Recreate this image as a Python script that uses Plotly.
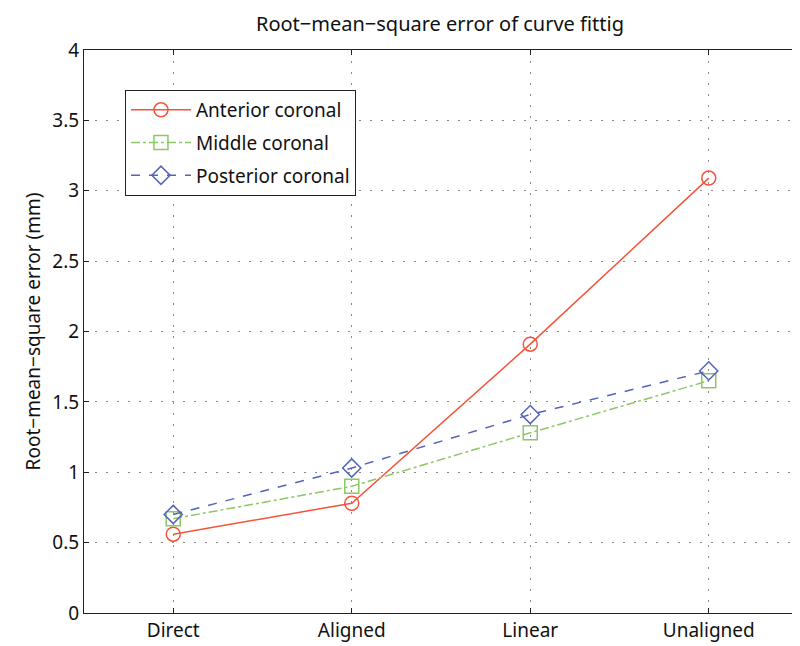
import plotly.graph_objects as go

categories = ["Direct", "Aligned", "Linear", "Unaligned"]
anterior = [0.56, 0.78, 1.91, 3.09]
middle = [0.67, 0.90, 1.28, 1.65]
posterior = [0.70, 1.03, 1.41, 1.72]
y_ticks = [0, 0.5, 1, 1.5, 2, 2.5, 3, 3.5, 4]
y_labels = ["0", "0.5", "1", "1.5", "2", "2.5", "3", "3.5", "4"]

xpos = list(range(1, len(categories) + 1))
FONT = "Noto Sans"

fig = go.Figure()
series = [
    ("Anterior coronal", anterior, "#f5543a", "solid", "circle-open"),
    ("Middle coronal", middle, "#8cc864", "dashdot", "square-open"),
    ("Posterior coronal", posterior, "#5563b8", "dash", "diamond-open"),
]
for i, (name, vals, col, dash, sym) in enumerate(series):
    fig.add_trace(go.Scatter(
        x=xpos, y=vals, name=name, mode="lines+markers", legendgroup=f"g{i}",
        line=dict(color=col, width=1.5, dash=dash),
        marker=dict(symbol=sym, size=14, color=col, line=dict(width=1.5, color=col)),
    ))

axis_common = dict(
    showline=True, linecolor="#222", linewidth=1, mirror="ticks",
    ticks="inside", ticklen=5, tickcolor="#222",
    showgrid=True, gridcolor="#888", griddash="2px,9px", gridwidth=1,
    zeroline=False, tickfont=dict(family=FONT, size=19, color="#111"),
)
fig.update_xaxes(range=[0.5, 4.5], tickvals=xpos, ticktext=categories, **axis_common)
fig.update_yaxes(range=[0, 4], tickvals=y_ticks, ticktext=y_labels,
                 title=dict(text="Root−mean−square error (mm)", font=dict(family=FONT, size=19, color="#111"), standoff=6),
                 **axis_common)

fig.update_layout(
    width=800, height=646,
    margin=dict(l=76, r=10, t=42, b=41),
    paper_bgcolor="white", plot_bgcolor="white",
    title=dict(text="Root−mean−square error of curve fittig", x=0.54, xanchor="center", y=0.975, yanchor="middle",
               font=dict(family=FONT, size=20, color="#111")),
    legend=dict(x=0.0574, y=0.929, xanchor="left", yanchor="top",
                bordercolor="#222", borderwidth=1, bgcolor="white",
                font=dict(family=FONT, size=19, color="#111"),
                itemwidth=60, traceorder="grouped", tracegroupgap=5),
    showlegend=True,
)

fig.write_html("out.html")
